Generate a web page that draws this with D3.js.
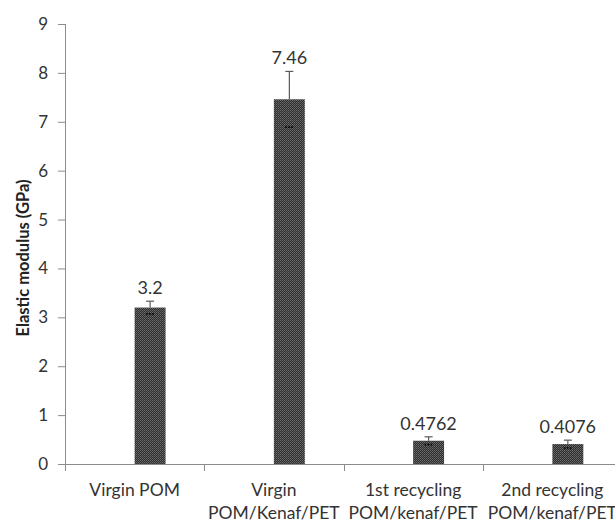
<!DOCTYPE html>
<html>
<head>
<meta charset="utf-8">
<script src="https://cdn.jsdelivr.net/npm/d3@7"></script>
<style>
  html, body { margin: 0; padding: 0; background: #fff; }
  svg { display: block; }
  text { font-family: Lato, "Open Sans", sans-serif; }
</style>
</head>
<body>
<svg id="chart" width="615" height="521"></svg>
<script>
// Sample labels (each entry is split over lines) and elastic modulus results
const categories = [
  ["Virgin POM"],
  ["Virgin", "POM/Kenaf/PET"],
  ["1st recycling", "POM/kenaf/PET"],
  ["2nd recycling", "POM/kenaf/PET"]
];
const modulus = [3.2, 7.46, 0.4762, 0.4076];     // GPa
const modulusError = [0.13, 0.57, 0.08, 0.08];    // GPa, ± standard deviation
const yTicks = [0, 1, 2, 3, 4, 5, 6, 7, 8, 9];
// Two series per group; only the second carries data, so bars sit right of centre
const seriesSlots = ["blank", "modulus"];

const svg = d3.select("#chart");
const W = 615, H = 521;
const plot = { left: 65, right: 622, top: 24, bottom: 464 };

const keys = categories.map((c, i) => i);
const x = d3.scaleBand().domain(keys).range([plot.left, plot.right]).padding(0);
const xSlot = d3.scaleBand().domain(seriesSlots)
  .range([0, x.bandwidth()]).paddingInner(0).paddingOuter(1.25);
const y = d3.scaleLinear().domain([0, 9]).range([plot.bottom, plot.top]);

const axisColor = "#8c8c8c";
const textColor = "#333333";

// Fine dotted fill used for the bars
const defs = svg.append("defs");
const pat = defs.append("pattern")
  .attr("id", "dots").attr("width", 2).attr("height", 2)
  .attr("patternUnits", "userSpaceOnUse");
pat.append("rect").attr("width", 2).attr("height", 2).attr("fill", "#2e2e2e");
pat.append("rect").attr("width", 1).attr("height", 1).attr("fill", "#6e6e6e");
pat.append("rect").attr("x", 1).attr("y", 1).attr("width", 1).attr("height", 1).attr("fill", "#5a5a5a");

// Y axis
const yAxis = svg.append("g")
  .attr("transform", `translate(${plot.left},0)`)
  .call(d3.axisLeft(y).tickValues(yTicks).tickFormat(d3.format("d")).tickSizeOuter(0).tickSize(7).tickPadding(10));
yAxis.select(".domain").attr("stroke", axisColor).attr("d", `M0.5,${plot.bottom}V${plot.top}`);
yAxis.selectAll(".tick line").attr("stroke", axisColor);
yAxis.selectAll(".tick text")
  .attr("fill", textColor).style("font-size", "17px");

// X axis: ticks mark the boundaries between groups
const xAxis = svg.append("g")
  .attr("transform", `translate(0,${plot.bottom})`);
xAxis.append("line")
  .attr("x1", plot.left).attr("x2", W)
  .attr("y1", 0.5).attr("y2", 0.5)
  .attr("stroke", axisColor);
xAxis.selectAll("line.tick")
  .data(keys.concat([keys.length]))
  .join("line")
  .attr("class", "tick")
  .attr("x1", d => Math.round((d < keys.length ? x(d) : plot.right)) + 0.5)
  .attr("x2", d => Math.round((d < keys.length ? x(d) : plot.right)) + 0.5)
  .attr("y1", 0).attr("y2", 7)
  .attr("stroke", axisColor);

// Category labels
const catText = xAxis.selectAll("text.cat")
  .data(categories)
  .join("text")
  .attr("class", "cat")
  .attr("text-anchor", "middle")
  .attr("fill", textColor)
  .style("font-size", "17.5px")
  .attr("x", (d, i) => x(i) + x.bandwidth() / 2)
  .attr("y", 32);
catText.selectAll("tspan")
  .data(d => d)
  .join("tspan")
  .attr("x", function () { return d3.select(this.parentNode).attr("x"); })
  .attr("dy", (d, j) => j === 0 ? 0 : 22.5)
  .text(d => d);

// Y axis title
svg.append("text")
  .attr("transform", `translate(29,${(plot.top + plot.bottom) / 2 + 14}) rotate(-90)`)
  .attr("text-anchor", "middle")
  .attr("fill", "#222")
  .style("font-size", "16.5px")
  .style("font-weight", "bold")
  .text("Elastic modulus (GPa)");

// Bars
const barX = i => x(i) + xSlot("modulus");
const barW = xSlot.bandwidth();
const g = svg.append("g");
g.selectAll("rect.bar")
  .data(modulus)
  .join("rect")
  .attr("class", "bar")
  .attr("x", (d, i) => barX(i))
  .attr("y", d => y(d))
  .attr("width", barW)
  .attr("height", d => y(0) - y(d))
  .attr("fill", "url(#dots)");

// Error bars: the upper whisker is visible above the bar, the lower cap shows through the fill
const capHalf = 4;
const eb = g.selectAll("g.err")
  .data(modulus.map((v, i) => ({ v, e: modulusError[i], i })))
  .join("g").attr("class", "err");
eb.append("line")
  .attr("x1", d => barX(d.i) + barW / 2).attr("x2", d => barX(d.i) + barW / 2)
  .attr("y1", d => y(d.v)).attr("y2", d => y(d.v + d.e))
  .attr("stroke", "#5a5a5a").attr("stroke-width", 1.2);
eb.append("line")
  .attr("x1", d => barX(d.i) + barW / 2 - capHalf).attr("x2", d => barX(d.i) + barW / 2 + capHalf)
  .attr("y1", d => y(d.v + d.e)).attr("y2", d => y(d.v + d.e))
  .attr("stroke", "#5a5a5a").attr("stroke-width", 1.2);
eb.append("line")
  .attr("x1", d => barX(d.i) + barW / 2 - capHalf).attr("x2", d => barX(d.i) + barW / 2 + capHalf)
  .attr("y1", d => y(d.v - d.e)).attr("y2", d => y(d.v - d.e))
  .attr("stroke", "#000").attr("stroke-width", 1.6)
  .attr("stroke-dasharray", "1.5,1.5");

// Value labels above each whisker
g.selectAll("text.val")
  .data(modulus)
  .join("text")
  .attr("class", "val")
  .attr("text-anchor", "middle")
  .attr("fill", textColor)
  .style("font-size", "18px")
  .attr("x", (d, i) => barX(i) + barW / 2)
  .attr("y", (d, i) => y(d + modulusError[i]) - 7)
  .text(d => String(d));
</script>
</body>
</html>
